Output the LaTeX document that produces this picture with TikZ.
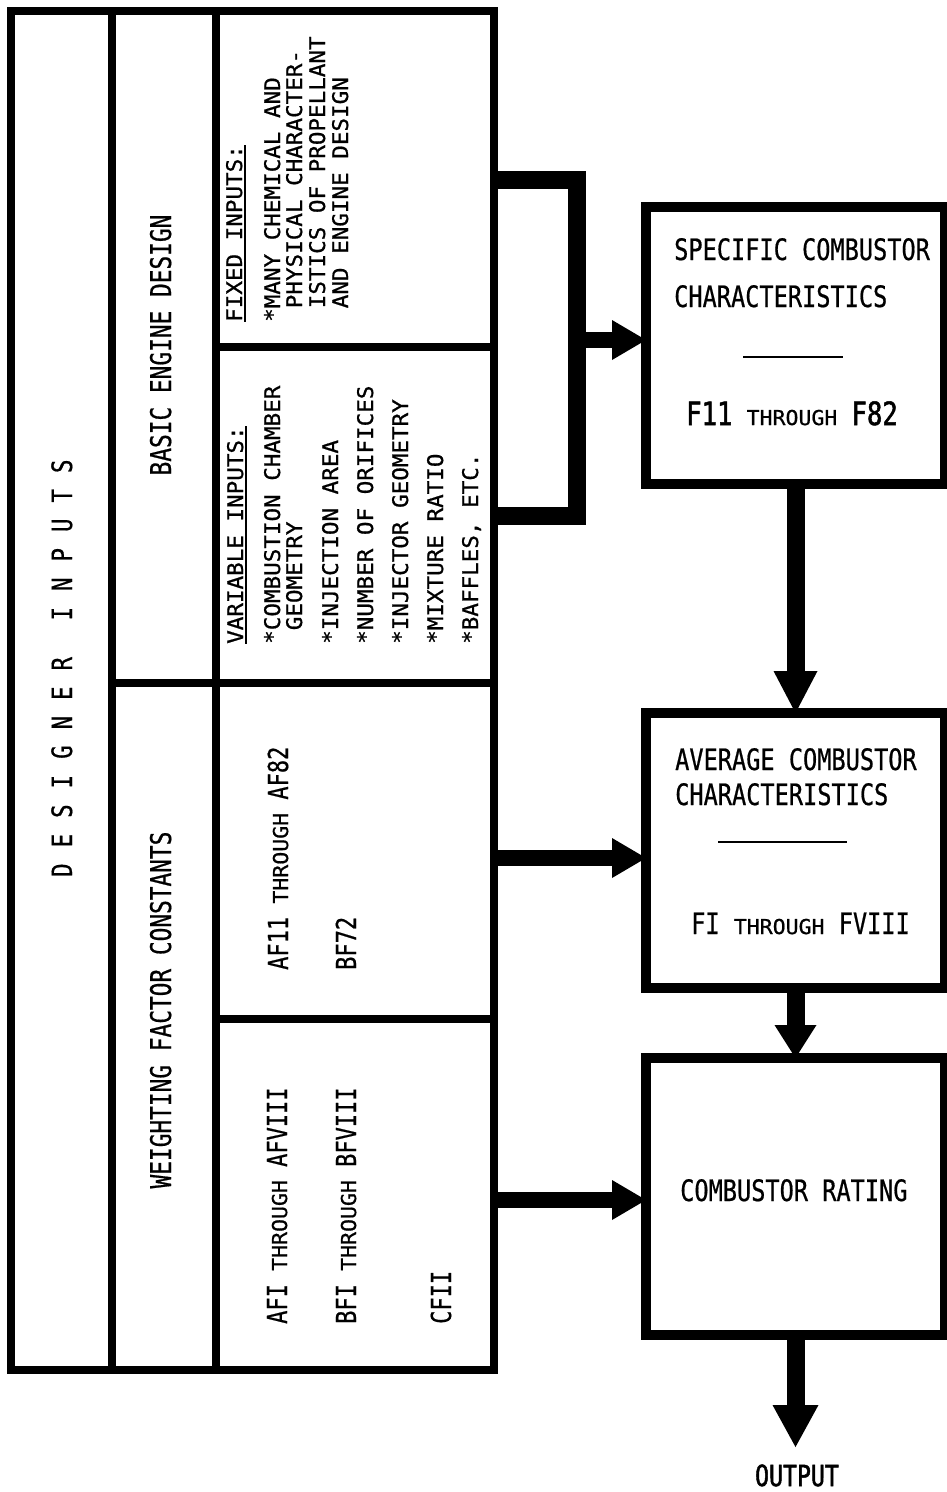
\documentclass[tikz,border=0pt]{standalone}
\usepackage{fontspec}
\usetikzlibrary{arrows.meta}
\newfontfamily\hf[FakeStretch=0.8,FakeBold=0.6]{DejaVu Sans Mono}
\newfontfamily\nf[FakeStretch=1.05,FakeBold=0.8]{DejaVu Sans Mono}
\newfontfamily\hvyf[FakeStretch=0.8,FakeBold=1.6]{DejaVu Sans Mono}
\newcommand\thr{\nf\fontsize{20.5}{22}\selectfont}
\newcommand\bigf{\hvyf\fontsize{32}{32}\selectfont}
\newcommand\myul[1]{\setbox0\hbox{#1}\rlap{\rule[-3.5pt]{\wd0}{1.8pt}}\box0}
\newcommand\lsp{\kern16pt}
\tikzset{
 tcell/.style={draw, line width=8pt, inner sep=0pt, outer sep=0pt, anchor=north west},
 cbox/.style={draw, line width=9.5pt, inner sep=0pt, outer sep=0pt, anchor=north west, minimum width=299pt},
 vtext/.style={rotate=90, inner sep=0pt, anchor=base west},
 hdtext/.style={vtext, font=\hf\fontsize{28.5}{30}\selectfont},
 inptext/.style={vtext, font=\nf\fontsize{21.5}{23}\selectfont},
 valtext/.style={vtext, font=\hf\fontsize{27.5}{30}\selectfont},
 boxtext/.style={inner sep=0pt, anchor=base west, font=\hf\fontsize{29.5}{32}\selectfont},
 harrow/.style={line width=16pt, -{Triangle[length=34pt,width=40pt,line width=0pt]}},
 varrow/.style={line width=18pt, -{Triangle[length=42pt,width=44pt,line width=0pt]}},
 brk/.style={line width=18pt, line join=miter},
 rulel/.style={line width=2.5pt},
}
\begin{document}
\begin{tikzpicture}[x=1pt,y=-1pt]
\useasboundingbox (0,0) rectangle (947,1492);
% table cells
\node[tcell, minimum width=101pt, minimum height=1359pt] (des) at (11,11) {};
\node[tcell, minimum width=104pt, minimum height=672pt] (bed) at (112,11) {};
\node[tcell, minimum width=104pt, minimum height=687pt] (wfc) at (112,683) {};
\node[tcell, minimum width=278pt, minimum height=336pt] (fix) at (216,11) {};
\node[tcell, minimum width=278pt, minimum height=336pt] (var) at (216,347) {};
\node[tcell, minimum width=278pt, minimum height=336pt] (af) at (216,683) {};
\node[tcell, minimum width=278pt, minimum height=351pt] (afi) at (216,1019) {};
% column texts
\node[vtext, font=\hf\fontsize{28}{30}\selectfont] (desT) at (72,877)
  {D\lsp E\lsp S\lsp I\lsp G\lsp N\lsp E\lsp R\kern36.5pt I\lsp N\lsp P\lsp U\lsp T\lsp S};
\node[hdtext, anchor=base] (bedT) at (171,345) {BASIC ENGINE DESIGN};
\node[hdtext, anchor=base] (wfcT) at (171,1010) {WEIGHTING FACTOR CONSTANTS};
% fixed inputs
\node[inptext] (f0) at (242,322) {\myul{FIXED INPUTS:}};
\node[inptext] (f1) at (280,322) {*MANY CHEMICAL AND};
\node[inptext] (f2) at (302,322) {\phantom{*}PHYSICAL CHARACTER-};
\node[inptext] (f3) at (325,322) {\phantom{*}ISTICS OF PROPELLANT};
\node[inptext] (f4) at (348,322) {\phantom{*}AND ENGINE DESIGN};
% variable inputs
\node[inptext] (v0) at (243,644) {\myul{VARIABLE INPUTS:}};
\node[inptext] (v1) at (280,644) {*COMBUSTION CHAMBER};
\node[inptext] (v2) at (302,644) {\phantom{*}GEOMETRY};
\node[inptext] (v3) at (338,644) {*INJECTION AREA};
\node[inptext] (v4) at (373,644) {*NUMBER OF ORIFICES};
\node[inptext] (v5) at (408,644) {*INJECTOR GEOMETRY};
\node[inptext] (v6) at (443,644) {*MIXTURE RATIO};
\node[inptext] (v7) at (478,644) {*BAFFLES, ETC.};
% weighting factors
\node[valtext] (a1) at (288,970) {AF11 {\thr THROUGH} AF82};
\node[valtext] (a2) at (356,970) {BF72};
\node[valtext] (b1) at (287,1324) {AFI {\thr THROUGH} AFVIII};
\node[valtext] (b2) at (356,1324) {BFI {\thr THROUGH} BFVIII};
\node[valtext] (b3) at (451,1324) {CFII};
% right boxes
\node[cbox, minimum height=277pt] (spec) at (646,207) {};
\node[cbox, minimum height=275pt] (avg) at (646,713) {};
\node[cbox, minimum height=277pt] (rate) at (646,1058) {};
\node[boxtext] (s1) at (674,260) {SPECIFIC COMBUSTOR};
\node[boxtext] (s2) at (674,307) {CHARACTERISTICS};
\draw[rulel] (743,357) -- (843,357);
\node[boxtext] (s3) at (686,425) {{\bigf F11} {\thr THROUGH} {\bigf F82}};
\node[boxtext] (m1) at (675,770) {AVERAGE COMBUSTOR};
\node[boxtext] (m2) at (675,805) {CHARACTERISTICS};
\draw[rulel] (718,842) -- (847,842);
\node[boxtext] (m3) at (691,934) {FI {\thr THROUGH} FVIII};
\node[boxtext] (r1) at (680,1201) {COMBUSTOR RATING};
\node[inner sep=0pt, anchor=base, font=\hvyf\fontsize{29}{32}\selectfont] (out) at (797,1486) {OUTPUT};
% outer frame
\node[draw, line width=8.5pt, inner sep=0pt, outer sep=0pt, anchor=north west, minimum width=483pt, minimum height=1359pt] (table) at (11,11) {};
% bracket and connectors
\coordinate (bt) at (490,180);
\coordinate (bb) at (490,516);
\coordinate (bk) at (576.5,340);
\coordinate (a1c) at (494,858);
\coordinate (a2c) at (494,1200);
\coordinate (ot) at (795.5,1447);
\draw[brk] (bt) -| (bk) |- (bb);
\draw[harrow] (bk) -- (bk -| spec.west);
\draw[harrow] (a1c) -- (a1c -| avg.west);
\draw[harrow] (a2c) -- (a2c -| rate.west);
\draw[varrow] (spec.south) -- (avg.north);
\draw[line width=18pt, -{Triangle[length=33pt,width=42pt,line width=0pt]}] (avg.south) -- (rate.north);
\draw[line width=18pt, -{Triangle[length=42pt,width=46pt,line width=0pt]}] (rate.south) -- (ot);
\end{tikzpicture}
\end{document}
